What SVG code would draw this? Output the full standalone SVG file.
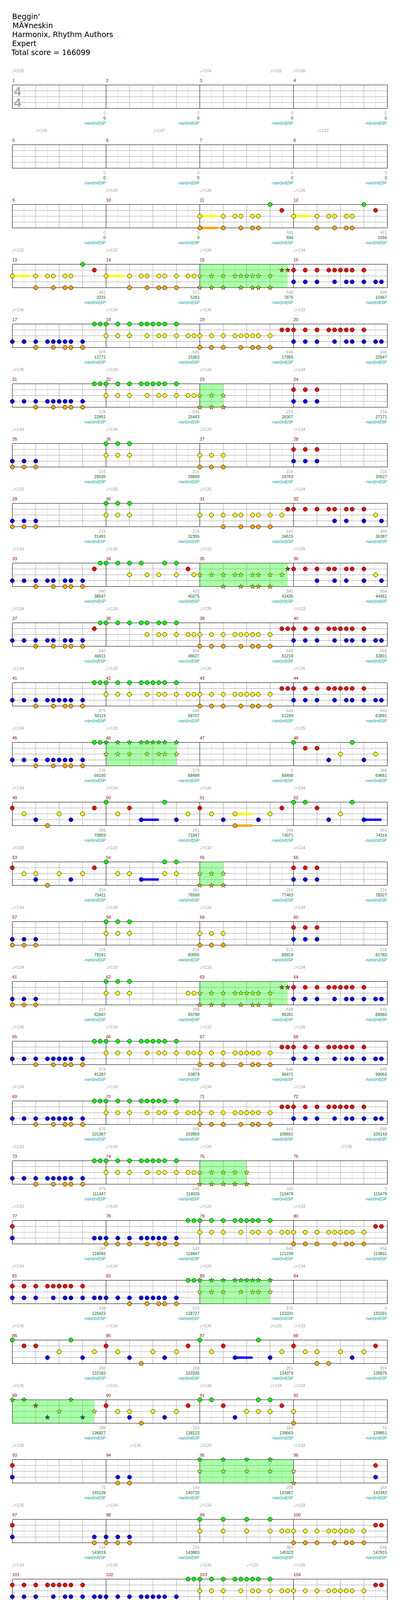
<svg xmlns="http://www.w3.org/2000/svg" width="1024" height="4807" viewBox="0 0 1024 4807">
<style>
.l8{stroke:#dcdcdc;stroke-width:1;fill:none}
.lb{stroke:#a0a0a0;stroke-width:1;fill:none}
.lm{stroke:#000;stroke-width:1;fill:none}
.ti{font-family:"DejaVu Sans",Verdana,sans-serif;font-size:19px;fill:#000}
.mn{font-family:"Liberation Sans",Arial,sans-serif;font-size:11px;fill:#900000}
.tp{font-family:"Liberation Sans",Arial,sans-serif;font-size:11px;fill:#a0a0a0}
.q{font-family:"DejaVu Sans",sans-serif;font-size:12px}
.s1,.s2,.s3{font-family:"Liberation Sans",Arial,sans-serif;font-size:10.5px;text-anchor:end}
.s1{fill:#a0a0a0}.s2{fill:#006400}.s3{fill:#009c9c}
.ts{font-family:"Liberation Sans",Arial,sans-serif;font-size:32px;font-weight:bold;fill:#a8a8a8}
.g{fill:#00ff00}.r{fill:#ff0000}.y{fill:#ffff00}.b{fill:#0000ff}.o{fill:#ffa500}
.sp{fill:#00ff00;fill-opacity:0.33}
</style>
<defs>
<circle id="c" r="5.3" stroke="#000" stroke-width="1"/>
<path id="s" d="M0,-6.5L1.53,-2.1L6.18,-2.01L2.47,0.8L3.82,5.26L0,2.6L-3.82,5.26L-2.47,0.8L-6.18,-2.01L-1.53,-2.1Z" stroke="#000" stroke-width="0.8"/>
<g id="staff" shape-rendering="crispEdges">
<path class="l8" d="M30,0V60M90,0V60M150,0V60M210,0V60M270,0V60M330,0V60M390,0V60M450,0V60M510,0V60M570,0V60M630,0V60M690,0V60M750,0V60M810,0V60M870,0V60M930,0V60"/>
<path class="lb" d="M60,0V60M120,0V60M180,0V60M300,0V60M360,0V60M420,0V60M540,0V60M600,0V60M660,0V60M780,0V60M840,0V60M900,0V60M0,15H960M0,30H960M0,45H960"/>
<path class="lm" d="M0,0V60M240,0V60M480,0V60M720,0V60M960,0V60M0,0H960M0,60H960"/>
</g>
<g id="staff1" shape-rendering="crispEdges">
<path class="l8" d="M30,0V60M90,0V60M150,0V60M210,0V60"/>
<path class="lb" d="M60,0V60M120,0V60M180,0V60M0,15H240M0,30H240M0,45H240"/>
<path class="lm" d="M0,0V60M240,0V60M0,0H240M0,60H240"/>
</g>
<g id="patA">
<g class="g"><use href="#c" x="210"/><use href="#c" x="225"/><use href="#c" x="240"/><use href="#c" x="270"/><use href="#c" x="300"/><use href="#c" x="330"/><use href="#c" x="345"/><use href="#c" x="360"/><use href="#c" x="375"/><use href="#c" x="390"/><use href="#c" x="420"/></g>
<g class="r" transform="translate(0,15)"><use href="#c" x="690"/><use href="#c" x="705"/><use href="#c" x="720"/><use href="#c" x="750"/><use href="#c" x="780"/><use href="#c" x="810"/><use href="#c" x="825"/><use href="#c" x="840"/><use href="#c" x="855"/><use href="#c" x="870"/><use href="#c" x="900"/></g>
<g class="y" transform="translate(0,30)"><use href="#c" x="240"/><use href="#c" x="270"/><use href="#c" x="300"/><use href="#c" x="345"/><use href="#c" x="375"/><use href="#c" x="390"/><use href="#c" x="420"/><use href="#c" x="450"/><use href="#c" x="465"/><use href="#c" x="480"/><use href="#c" x="510"/><use href="#c" x="540"/><use href="#c" x="570"/><use href="#c" x="585"/><use href="#c" x="600"/><use href="#c" x="615"/><use href="#c" x="630"/><use href="#c" x="660"/></g>
<g class="b" transform="translate(0,45)"><use href="#c" x="0"/><use href="#c" x="30"/><use href="#c" x="60"/><use href="#c" x="90"/><use href="#c" x="105"/><use href="#c" x="120"/><use href="#c" x="135"/><use href="#c" x="150"/><use href="#c" x="180"/><use href="#c" x="720"/><use href="#c" x="750"/><use href="#c" x="780"/><use href="#c" x="825"/><use href="#c" x="855"/><use href="#c" x="870"/><use href="#c" x="900"/><use href="#c" x="930"/><use href="#c" x="945"/></g>
<g class="o" transform="translate(0,60)"><use href="#c" x="60"/><use href="#c" x="105"/><use href="#c" x="135"/><use href="#c" x="150"/><use href="#c" x="180"/><use href="#c" x="480"/><use href="#c" x="510"/><use href="#c" x="540"/><use href="#c" x="585"/><use href="#c" x="615"/><use href="#c" x="630"/><use href="#c" x="660"/></g>
</g>
<g id="patB">
<g class="g"><use href="#c" x="240"/><use href="#c" x="270"/><use href="#c" x="300"/></g>
<g class="r" transform="translate(0,15)"><use href="#c" x="720"/><use href="#c" x="750"/><use href="#c" x="780"/></g>
<g class="y" transform="translate(0,30)"><use href="#c" x="240"/><use href="#c" x="270"/><use href="#c" x="300"/><use href="#c" x="480"/><use href="#c" x="510"/><use href="#c" x="540"/></g>
<g class="b" transform="translate(0,45)"><use href="#c" x="0"/><use href="#c" x="30"/><use href="#c" x="60"/><use href="#c" x="720"/><use href="#c" x="750"/><use href="#c" x="780"/></g>
<g class="o" transform="translate(0,60)"><use href="#c" x="0"/><use href="#c" x="30"/><use href="#c" x="60"/><use href="#c" x="480"/><use href="#c" x="510"/><use href="#c" x="540"/></g>
</g>
</defs>
<rect width="1024" height="4807" fill="#fff"/>
<g id="title">
<text class="ti" x="31" y="49">Beggin'</text>
<text class="ti" x="32" y="72">MÃ¥neskin</text>
<text class="ti" x="31" y="95">Harmonix, Rhythm Authors</text>
<text class="ti" x="31" y="118">Expert</text>
<text class="ti" x="29" y="141">Total score = 166099</text>
</g>

<g id="row-1" transform="translate(31.5,217.5)">
<use href="#staff"/>
<text class="ts" x="4.5" y="27.5">4</text><text class="ts" x="4.5" y="56.5">4</text>
<text class="tp" x="-0.5" y="-33"><tspan class="q">♩</tspan>=105</text><text class="tp" x="479.5" y="-33"><tspan class="q">♩</tspan>=104</text><text class="tp" x="659.5" y="-33"><tspan class="q">♩</tspan>=102</text><text class="tp" x="719.5" y="-33"><tspan class="q">♩</tspan>=106</text>
<text class="mn" x="0" y="-7.5">1</text><text class="mn" x="240" y="-7.5">2</text><text class="mn" x="480" y="-7.5">3</text><text class="mn" x="720" y="-7.5">4</text>
<text class="s1" x="239" y="75.5">0</text><text class="s2" x="239" y="88.5">0</text><text class="s3" x="239" y="101">-nan(ind)SP</text>
<text class="s1" x="479" y="75.5">0</text><text class="s2" x="479" y="88.5">0</text><text class="s3" x="479" y="101">-nan(ind)SP</text>
<text class="s1" x="719" y="75.5">0</text><text class="s2" x="719" y="88.5">0</text><text class="s3" x="719" y="101">-nan(ind)SP</text>
<text class="s1" x="959" y="75.5">0</text><text class="s2" x="959" y="88.5">0</text><text class="s3" x="959" y="101">-nan(ind)SP</text>
</g>

<g id="row-5" transform="translate(31.5,370.5)">
<use href="#staff"/>
<text class="tp" x="59.5" y="-33"><tspan class="q">♩</tspan>=106</text><text class="tp" x="359.5" y="-33"><tspan class="q">♩</tspan>=107</text><text class="tp" x="779.5" y="-33"><tspan class="q">♩</tspan>=122</text>
<text class="mn" x="0" y="-7.5">5</text><text class="mn" x="240" y="-7.5">6</text><text class="mn" x="480" y="-7.5">7</text><text class="mn" x="720" y="-7.5">8</text>
<text class="s1" x="239" y="75.5">0</text><text class="s2" x="239" y="88.5">0</text><text class="s3" x="239" y="101">-nan(ind)SP</text>
<text class="s1" x="479" y="75.5">0</text><text class="s2" x="479" y="88.5">0</text><text class="s3" x="479" y="101">-nan(ind)SP</text>
<text class="s1" x="719" y="75.5">0</text><text class="s2" x="719" y="88.5">0</text><text class="s3" x="719" y="101">-nan(ind)SP</text>
<text class="s1" x="959" y="75.5">0</text><text class="s2" x="959" y="88.5">0</text><text class="s3" x="959" y="101">-nan(ind)SP</text>
</g>

<g id="row-9" transform="translate(31.5,523.5)">
<use href="#staff"/>
<text class="tp" x="239.5" y="-33"><tspan class="q">♩</tspan>=135</text><text class="tp" x="479.5" y="-33"><tspan class="q">♩</tspan>=135</text><text class="tp" x="719.5" y="-33"><tspan class="q">♩</tspan>=135</text>
<text class="mn" x="0" y="-7.5">9</text><text class="mn" x="240" y="-7.5">10</text><text class="mn" x="480" y="-7.5">11</text><text class="mn" x="720" y="-7.5">12</text>
<rect class="y" x="480" y="27" width="45" height="6"/><rect class="o" x="480" y="57" width="45" height="6"/><rect class="y" x="720" y="27" width="45" height="6"/>
<g class="g"><use href="#c" x="660"/><use href="#c" x="900"/></g>
<g class="r" transform="translate(0,15)"><use href="#c" x="690"/><use href="#c" x="930"/></g>
<g class="y" transform="translate(0,30)"><use href="#c" x="480"/><use href="#c" x="540"/><use href="#c" x="570"/><use href="#c" x="585"/><use href="#c" x="615"/><use href="#c" x="630"/><use href="#c" x="720"/><use href="#c" x="780"/><use href="#c" x="810"/><use href="#c" x="825"/><use href="#c" x="855"/><use href="#c" x="870"/></g>
<g class="o" transform="translate(0,60)"><use href="#c" x="480"/><use href="#c" x="540"/><use href="#c" x="585"/><use href="#c" x="615"/><use href="#c" x="630"/><use href="#c" x="780"/><use href="#c" x="825"/><use href="#c" x="855"/><use href="#c" x="870"/></g>
<text class="s1" x="239" y="75.5">0</text><text class="s2" x="239" y="88.5">0</text><text class="s3" x="239" y="101">-nan(ind)SP</text>
<text class="s1" x="479" y="75.5">0</text><text class="s2" x="479" y="88.5">0</text><text class="s3" x="479" y="101">-nan(ind)SP</text>
<text class="s1" x="719" y="75.5">486</text><text class="s2" x="719" y="88.5">594</text><text class="s3" x="719" y="101">-nan(ind)SP</text>
<text class="s1" x="959" y="75.5">441</text><text class="s2" x="959" y="88.5">1656</text><text class="s3" x="959" y="101">-nan(ind)SP</text>
</g>

<g id="row-13" transform="translate(31.5,676.5)">
<use href="#staff"/>
<text class="tp" x="-0.5" y="-33"><tspan class="q">♩</tspan>=132</text><text class="tp" x="239.5" y="-33"><tspan class="q">♩</tspan>=133</text><text class="tp" x="479.5" y="-33"><tspan class="q">♩</tspan>=136</text><text class="tp" x="719.5" y="-33"><tspan class="q">♩</tspan>=134</text>
<text class="mn" x="0" y="-7.5">13</text><text class="mn" x="240" y="-7.5">14</text><text class="mn" x="480" y="-7.5">15</text><text class="mn" x="720" y="-7.5">16</text>
<rect class="y" x="0" y="27" width="45" height="6"/><rect class="y" x="240" y="27" width="45" height="6"/>
<g class="g"><use href="#c" x="180"/></g>
<g class="r" transform="translate(0,15)"><use href="#c" x="210"/><use href="#c" x="720"/><use href="#c" x="750"/><use href="#c" x="780"/><use href="#c" x="810"/><use href="#c" x="825"/><use href="#c" x="840"/><use href="#c" x="855"/><use href="#c" x="870"/><use href="#c" x="900"/><use href="#s" x="690"/><use href="#s" x="705"/></g>
<g class="y" transform="translate(0,30)"><use href="#c" x="0"/><use href="#c" x="60"/><use href="#c" x="90"/><use href="#c" x="105"/><use href="#c" x="135"/><use href="#c" x="150"/><use href="#c" x="240"/><use href="#c" x="300"/><use href="#c" x="330"/><use href="#c" x="345"/><use href="#c" x="375"/><use href="#c" x="390"/><use href="#c" x="420"/><use href="#c" x="450"/><use href="#c" x="465"/><use href="#s" x="480"/><use href="#s" x="510"/><use href="#s" x="540"/><use href="#s" x="570"/><use href="#s" x="585"/><use href="#s" x="600"/><use href="#s" x="615"/><use href="#s" x="630"/><use href="#s" x="660"/></g>
<g class="b" transform="translate(0,45)"><use href="#c" x="720"/><use href="#c" x="750"/><use href="#c" x="780"/><use href="#c" x="825"/><use href="#c" x="855"/><use href="#c" x="870"/><use href="#c" x="900"/><use href="#c" x="930"/><use href="#c" x="945"/></g>
<g class="o" transform="translate(0,60)"><use href="#c" x="60"/><use href="#c" x="105"/><use href="#c" x="135"/><use href="#c" x="150"/><use href="#c" x="300"/><use href="#c" x="345"/><use href="#c" x="375"/><use href="#c" x="390"/><use href="#c" x="420"/><use href="#s" x="480"/><use href="#s" x="510"/><use href="#s" x="540"/><use href="#s" x="585"/><use href="#s" x="615"/><use href="#s" x="630"/><use href="#s" x="660"/></g>
<rect class="sp" x="480" y="0" width="225" height="60"/>
<text class="s1" x="239" y="75.5">441</text><text class="s2" x="239" y="88.5">3231</text><text class="s3" x="239" y="101">-nan(ind)SP</text>
<text class="s1" x="479" y="75.5">513</text><text class="s2" x="479" y="88.5">5283</text><text class="s3" x="479" y="101">-nan(ind)SP</text>
<text class="s1" x="719" y="75.5">648</text><text class="s2" x="719" y="88.5">7875</text><text class="s3" x="719" y="101">-nan(ind)SP</text>
<text class="s1" x="959" y="75.5">648</text><text class="s2" x="959" y="88.5">10467</text><text class="s3" x="959" y="101">-nan(ind)SP</text>
</g>

<g id="row-17" transform="translate(31.5,829.5)">
<use href="#staff"/>
<text class="tp" x="-0.5" y="-33"><tspan class="q">♩</tspan>=136</text><text class="tp" x="239.5" y="-33"><tspan class="q">♩</tspan>=134</text><text class="tp" x="479.5" y="-33"><tspan class="q">♩</tspan>=135</text><text class="tp" x="719.5" y="-33"><tspan class="q">♩</tspan>=132</text>
<text class="mn" x="0" y="-7.5">17</text><text class="mn" x="240" y="-7.5">18</text><text class="mn" x="480" y="-7.5">19</text><text class="mn" x="720" y="-7.5">20</text>
<use href="#patA"/>
<text class="s1" x="239" y="75.5">576</text><text class="s2" x="239" y="88.5">12771</text><text class="s3" x="239" y="101">-nan(ind)SP</text>
<text class="s1" x="479" y="75.5">648</text><text class="s2" x="479" y="88.5">15363</text><text class="s3" x="479" y="101">-nan(ind)SP</text>
<text class="s1" x="719" y="75.5">648</text><text class="s2" x="719" y="88.5">17955</text><text class="s3" x="719" y="101">-nan(ind)SP</text>
<text class="s1" x="959" y="75.5">648</text><text class="s2" x="959" y="88.5">20547</text><text class="s3" x="959" y="101">-nan(ind)SP</text>
</g>

<g id="row-21" transform="translate(31.5,982.5)">
<use href="#staff"/>
<text class="tp" x="-0.5" y="-33"><tspan class="q">♩</tspan>=135</text><text class="tp" x="239.5" y="-33"><tspan class="q">♩</tspan>=134</text><text class="tp" x="479.5" y="-33"><tspan class="q">♩</tspan>=133</text><text class="tp" x="719.5" y="-33"><tspan class="q">♩</tspan>=134</text>
<text class="mn" x="0" y="-7.5">21</text><text class="mn" x="240" y="-7.5">22</text><text class="mn" x="480" y="-7.5">23</text><text class="mn" x="720" y="-7.5">24</text>
<g class="g"><use href="#c" x="210"/><use href="#c" x="225"/><use href="#c" x="240"/><use href="#c" x="270"/><use href="#c" x="300"/><use href="#c" x="330"/><use href="#c" x="345"/><use href="#c" x="360"/><use href="#c" x="375"/><use href="#c" x="390"/><use href="#c" x="420"/></g>
<g class="r" transform="translate(0,15)"><use href="#c" x="720"/><use href="#c" x="750"/><use href="#c" x="780"/></g>
<g class="y" transform="translate(0,30)"><use href="#c" x="240"/><use href="#c" x="270"/><use href="#c" x="300"/><use href="#c" x="345"/><use href="#c" x="375"/><use href="#c" x="390"/><use href="#c" x="420"/><use href="#c" x="450"/><use href="#c" x="465"/><use href="#s" x="480"/><use href="#s" x="510"/><use href="#s" x="540"/></g>
<g class="b" transform="translate(0,45)"><use href="#c" x="0"/><use href="#c" x="30"/><use href="#c" x="60"/><use href="#c" x="90"/><use href="#c" x="105"/><use href="#c" x="120"/><use href="#c" x="135"/><use href="#c" x="150"/><use href="#c" x="180"/><use href="#c" x="720"/><use href="#c" x="750"/><use href="#c" x="780"/></g>
<g class="o" transform="translate(0,60)"><use href="#c" x="60"/><use href="#c" x="105"/><use href="#c" x="135"/><use href="#c" x="150"/><use href="#c" x="180"/><use href="#s" x="480"/><use href="#s" x="510"/><use href="#s" x="540"/></g>
<rect class="sp" x="480" y="0" width="60" height="60"/>
<text class="s1" x="239" y="75.5">576</text><text class="s2" x="239" y="88.5">22851</text><text class="s3" x="239" y="101">-nan(ind)SP</text>
<text class="s1" x="479" y="75.5">648</text><text class="s2" x="479" y="88.5">25443</text><text class="s3" x="479" y="101">-nan(ind)SP</text>
<text class="s1" x="719" y="75.5">216</text><text class="s2" x="719" y="88.5">26307</text><text class="s3" x="719" y="101">-nan(ind)SP</text>
<text class="s1" x="959" y="75.5">216</text><text class="s2" x="959" y="88.5">27171</text><text class="s3" x="959" y="101">-nan(ind)SP</text>
</g>

<g id="row-25" transform="translate(31.5,1135.5)">
<use href="#staff"/>
<text class="tp" x="-0.5" y="-33"><tspan class="q">♩</tspan>=134</text><text class="tp" x="239.5" y="-33"><tspan class="q">♩</tspan>=134</text><text class="tp" x="479.5" y="-33"><tspan class="q">♩</tspan>=133</text><text class="tp" x="719.5" y="-33"><tspan class="q">♩</tspan>=134</text>
<text class="mn" x="0" y="-7.5">25</text><text class="mn" x="240" y="-7.5">26</text><text class="mn" x="480" y="-7.5">27</text><text class="mn" x="720" y="-7.5">28</text>
<use href="#patB"/>
<text class="s1" x="239" y="75.5">216</text><text class="s2" x="239" y="88.5">28035</text><text class="s3" x="239" y="101">-nan(ind)SP</text>
<text class="s1" x="479" y="75.5">216</text><text class="s2" x="479" y="88.5">28899</text><text class="s3" x="479" y="101">-nan(ind)SP</text>
<text class="s1" x="719" y="75.5">216</text><text class="s2" x="719" y="88.5">29763</text><text class="s3" x="719" y="101">-nan(ind)SP</text>
<text class="s1" x="959" y="75.5">216</text><text class="s2" x="959" y="88.5">30627</text><text class="s3" x="959" y="101">-nan(ind)SP</text>
</g>

<g id="row-29" transform="translate(31.5,1288.5)">
<use href="#staff"/>
<text class="tp" x="-0.5" y="-33"><tspan class="q">♩</tspan>=133</text><text class="tp" x="239.5" y="-33"><tspan class="q">♩</tspan>=135</text><text class="tp" x="479.5" y="-33"><tspan class="q">♩</tspan>=135</text><text class="tp" x="719.5" y="-33"><tspan class="q">♩</tspan>=134</text>
<text class="mn" x="0" y="-7.5">29</text><text class="mn" x="240" y="-7.5">30</text><text class="mn" x="480" y="-7.5">31</text><text class="mn" x="720" y="-7.5">32</text>
<g class="g"><use href="#c" x="240"/><use href="#c" x="270"/><use href="#c" x="300"/></g>
<g class="r" transform="translate(0,15)"><use href="#c" x="705"/><use href="#c" x="720"/><use href="#c" x="750"/><use href="#c" x="780"/><use href="#c" x="810"/><use href="#c" x="825"/><use href="#c" x="855"/><use href="#c" x="870"/><use href="#c" x="900"/></g>
<g class="y" transform="translate(0,30)"><use href="#c" x="240"/><use href="#c" x="270"/><use href="#c" x="300"/><use href="#c" x="480"/><use href="#c" x="510"/><use href="#c" x="540"/><use href="#c" x="570"/><use href="#c" x="585"/><use href="#c" x="615"/><use href="#c" x="630"/><use href="#c" x="660"/><use href="#c" x="690"/><use href="#c" x="930"/></g>
<g class="b" transform="translate(0,45)"><use href="#c" x="0"/><use href="#c" x="30"/><use href="#c" x="60"/><use href="#c" x="825"/><use href="#c" x="855"/><use href="#c" x="900"/><use href="#c" x="945"/></g>
<g class="o" transform="translate(0,60)"><use href="#c" x="0"/><use href="#c" x="30"/><use href="#c" x="60"/><use href="#c" x="540"/><use href="#c" x="585"/><use href="#c" x="615"/><use href="#c" x="630"/><use href="#c" x="660"/></g>
<text class="s1" x="239" y="75.5">216</text><text class="s2" x="239" y="88.5">31491</text><text class="s3" x="239" y="101">-nan(ind)SP</text>
<text class="s1" x="479" y="75.5">216</text><text class="s2" x="479" y="88.5">32355</text><text class="s3" x="479" y="101">-nan(ind)SP</text>
<text class="s1" x="719" y="75.5">540</text><text class="s2" x="719" y="88.5">34515</text><text class="s3" x="719" y="101">-nan(ind)SP</text>
<text class="s1" x="959" y="75.5">468</text><text class="s2" x="959" y="88.5">36387</text><text class="s3" x="959" y="101">-nan(ind)SP</text>
</g>

<g id="row-33" transform="translate(31.5,1441.5)">
<use href="#staff"/>
<text class="tp" x="-0.5" y="-33"><tspan class="q">♩</tspan>=134</text><text class="tp" x="239.5" y="-33"><tspan class="q">♩</tspan>=135</text><text class="tp" x="479.5" y="-33"><tspan class="q">♩</tspan>=133</text><text class="tp" x="719.5" y="-33"><tspan class="q">♩</tspan>=135</text>
<text class="mn" x="0" y="-7.5">33</text><text class="mn" x="240" y="-7.5">34</text><text class="mn" x="480" y="-7.5">35</text><text class="mn" x="720" y="-7.5">36</text>
<g class="g"><use href="#c" x="225"/><use href="#c" x="240"/><use href="#c" x="270"/><use href="#c" x="300"/><use href="#c" x="330"/><use href="#c" x="390"/><use href="#c" x="420"/></g>
<g class="r" transform="translate(0,15)"><use href="#c" x="210"/><use href="#c" x="450"/><use href="#c" x="720"/><use href="#c" x="750"/><use href="#c" x="780"/><use href="#c" x="810"/><use href="#c" x="825"/><use href="#c" x="855"/><use href="#c" x="870"/><use href="#c" x="900"/><use href="#s" x="705"/></g>
<g class="y" transform="translate(0,30)"><use href="#c" x="300"/><use href="#c" x="345"/><use href="#c" x="375"/><use href="#c" x="420"/><use href="#c" x="465"/><use href="#c" x="930"/><use href="#s" x="480"/><use href="#s" x="510"/><use href="#s" x="540"/><use href="#s" x="570"/><use href="#s" x="585"/><use href="#s" x="615"/><use href="#s" x="630"/><use href="#s" x="660"/><use href="#s" x="690"/></g>
<g class="b" transform="translate(0,45)"><use href="#c" x="0"/><use href="#c" x="30"/><use href="#c" x="60"/><use href="#c" x="90"/><use href="#c" x="105"/><use href="#c" x="135"/><use href="#c" x="150"/><use href="#c" x="180"/><use href="#c" x="780"/><use href="#c" x="825"/><use href="#c" x="855"/><use href="#c" x="900"/><use href="#c" x="945"/></g>
<g class="o" transform="translate(0,60)"><use href="#c" x="60"/><use href="#c" x="105"/><use href="#c" x="135"/><use href="#c" x="150"/><use href="#c" x="180"/><use href="#s" x="540"/><use href="#s" x="585"/><use href="#s" x="615"/><use href="#s" x="630"/><use href="#s" x="660"/></g>
<rect class="sp" x="480" y="0" width="225" height="60"/>
<text class="s1" x="239" y="75.5">540</text><text class="s2" x="239" y="88.5">38547</text><text class="s3" x="239" y="101">-nan(ind)SP</text>
<text class="s1" x="479" y="75.5">432</text><text class="s2" x="479" y="88.5">40275</text><text class="s3" x="479" y="101">-nan(ind)SP</text>
<text class="s1" x="719" y="75.5">540</text><text class="s2" x="719" y="88.5">42435</text><text class="s3" x="719" y="101">-nan(ind)SP</text>
<text class="s1" x="959" y="75.5">504</text><text class="s2" x="959" y="88.5">44451</text><text class="s3" x="959" y="101">-nan(ind)SP</text>
</g>

<g id="row-37" transform="translate(31.5,1594.5)">
<use href="#staff"/>
<text class="tp" x="-0.5" y="-33"><tspan class="q">♩</tspan>=134</text><text class="tp" x="239.5" y="-33"><tspan class="q">♩</tspan>=134</text><text class="tp" x="479.5" y="-33"><tspan class="q">♩</tspan>=135</text><text class="tp" x="719.5" y="-33"><tspan class="q">♩</tspan>=133</text>
<text class="mn" x="0" y="-7.5">37</text><text class="mn" x="240" y="-7.5">38</text><text class="mn" x="480" y="-7.5">39</text><text class="mn" x="720" y="-7.5">40</text>
<g class="g"><use href="#c" x="225"/><use href="#c" x="240"/><use href="#c" x="270"/><use href="#c" x="300"/><use href="#c" x="330"/><use href="#c" x="345"/><use href="#c" x="375"/><use href="#c" x="390"/><use href="#c" x="420"/></g>
<g class="r" transform="translate(0,15)"><use href="#c" x="210"/><use href="#c" x="690"/><use href="#c" x="705"/><use href="#c" x="720"/><use href="#c" x="750"/><use href="#c" x="780"/><use href="#c" x="810"/><use href="#c" x="825"/><use href="#c" x="840"/><use href="#c" x="855"/><use href="#c" x="870"/><use href="#c" x="900"/></g>
<g class="y" transform="translate(0,30)"><use href="#c" x="345"/><use href="#c" x="375"/><use href="#c" x="390"/><use href="#c" x="420"/><use href="#c" x="450"/><use href="#c" x="465"/><use href="#c" x="480"/><use href="#c" x="510"/><use href="#c" x="540"/><use href="#c" x="570"/><use href="#c" x="585"/><use href="#c" x="600"/><use href="#c" x="615"/><use href="#c" x="630"/><use href="#c" x="660"/></g>
<g class="b" transform="translate(0,45)"><use href="#c" x="0"/><use href="#c" x="30"/><use href="#c" x="60"/><use href="#c" x="90"/><use href="#c" x="105"/><use href="#c" x="135"/><use href="#c" x="150"/><use href="#c" x="180"/><use href="#c" x="720"/><use href="#c" x="750"/><use href="#c" x="780"/><use href="#c" x="825"/><use href="#c" x="855"/><use href="#c" x="870"/><use href="#c" x="900"/><use href="#c" x="930"/><use href="#c" x="945"/></g>
<g class="o" transform="translate(0,60)"><use href="#c" x="60"/><use href="#c" x="105"/><use href="#c" x="135"/><use href="#c" x="150"/><use href="#c" x="180"/><use href="#c" x="480"/><use href="#c" x="510"/><use href="#c" x="540"/><use href="#c" x="585"/><use href="#c" x="615"/><use href="#c" x="630"/><use href="#c" x="660"/></g>
<text class="s1" x="239" y="75.5">540</text><text class="s2" x="239" y="88.5">46611</text><text class="s3" x="239" y="101">-nan(ind)SP</text>
<text class="s1" x="479" y="75.5">504</text><text class="s2" x="479" y="88.5">48627</text><text class="s3" x="479" y="101">-nan(ind)SP</text>
<text class="s1" x="719" y="75.5">648</text><text class="s2" x="719" y="88.5">51219</text><text class="s3" x="719" y="101">-nan(ind)SP</text>
<text class="s1" x="959" y="75.5">648</text><text class="s2" x="959" y="88.5">53811</text><text class="s3" x="959" y="101">-nan(ind)SP</text>
</g>

<g id="row-41" transform="translate(31.5,1747.5)">
<use href="#staff"/>
<text class="tp" x="-0.5" y="-33"><tspan class="q">♩</tspan>=134</text><text class="tp" x="239.5" y="-33"><tspan class="q">♩</tspan>=133</text><text class="tp" x="479.5" y="-33"><tspan class="q">♩</tspan>=135</text><text class="tp" x="719.5" y="-33"><tspan class="q">♩</tspan>=135</text>
<text class="mn" x="0" y="-7.5">41</text><text class="mn" x="240" y="-7.5">42</text><text class="mn" x="480" y="-7.5">43</text><text class="mn" x="720" y="-7.5">44</text>
<use href="#patA"/>
<text class="s1" x="239" y="75.5">576</text><text class="s2" x="239" y="88.5">56115</text><text class="s3" x="239" y="101">-nan(ind)SP</text>
<text class="s1" x="479" y="75.5">648</text><text class="s2" x="479" y="88.5">58707</text><text class="s3" x="479" y="101">-nan(ind)SP</text>
<text class="s1" x="719" y="75.5">648</text><text class="s2" x="719" y="88.5">61299</text><text class="s3" x="719" y="101">-nan(ind)SP</text>
<text class="s1" x="959" y="75.5">648</text><text class="s2" x="959" y="88.5">63891</text><text class="s3" x="959" y="101">-nan(ind)SP</text>
</g>

<g id="row-45" transform="translate(31.5,1900.5)">
<use href="#staff"/>
<text class="tp" x="-0.5" y="-33"><tspan class="q">♩</tspan>=134</text><text class="tp" x="239.5" y="-33"><tspan class="q">♩</tspan>=133</text><text class="tp" x="719.5" y="-33"><tspan class="q">♩</tspan>=135</text>
<text class="mn" x="0" y="-7.5">45</text><text class="mn" x="240" y="-7.5">46</text><text class="mn" x="480" y="-7.5">47</text><text class="mn" x="720" y="-7.5">48</text>
<g class="g"><use href="#c" x="210"/><use href="#c" x="225"/><use href="#c" x="720"/><use href="#c" x="870"/><use href="#s" x="240"/><use href="#s" x="270"/><use href="#s" x="300"/><use href="#s" x="330"/><use href="#s" x="345"/><use href="#s" x="360"/><use href="#s" x="375"/><use href="#s" x="390"/><use href="#s" x="420"/></g>
<g class="r" transform="translate(0,15)"><use href="#c" x="750"/><use href="#c" x="780"/></g>
<g class="y" transform="translate(0,30)"><use href="#c" x="840"/><use href="#c" x="930"/><use href="#s" x="240"/><use href="#s" x="270"/><use href="#s" x="300"/><use href="#s" x="345"/><use href="#s" x="375"/><use href="#s" x="390"/><use href="#s" x="420"/></g>
<g class="b" transform="translate(0,45)"><use href="#c" x="0"/><use href="#c" x="30"/><use href="#c" x="60"/><use href="#c" x="90"/><use href="#c" x="105"/><use href="#c" x="120"/><use href="#c" x="135"/><use href="#c" x="150"/><use href="#c" x="180"/><use href="#c" x="810"/><use href="#c" x="900"/></g>
<g class="o" transform="translate(0,60)"><use href="#c" x="60"/><use href="#c" x="105"/><use href="#c" x="135"/><use href="#c" x="150"/><use href="#c" x="180"/></g>
<rect class="sp" x="240" y="0" width="180" height="60"/>
<text class="s1" x="239" y="75.5">576</text><text class="s2" x="239" y="88.5">66195</text><text class="s3" x="239" y="101">-nan(ind)SP</text>
<text class="s1" x="479" y="75.5">576</text><text class="s2" x="479" y="88.5">68499</text><text class="s3" x="479" y="101">-nan(ind)SP</text>
<text class="s1" x="719" y="75.5">0</text><text class="s2" x="719" y="88.5">68499</text><text class="s3" x="719" y="101">-nan(ind)SP</text>
<text class="s1" x="959" y="75.5">288</text><text class="s2" x="959" y="88.5">69651</text><text class="s3" x="959" y="101">-nan(ind)SP</text>
</g>

<g id="row-49" transform="translate(31.5,2053.5)">
<use href="#staff"/>
<text class="tp" x="-0.5" y="-33"><tspan class="q">♩</tspan>=134</text><text class="tp" x="239.5" y="-33"><tspan class="q">♩</tspan>=134</text><text class="tp" x="479.5" y="-33"><tspan class="q">♩</tspan>=135</text><text class="tp" x="719.5" y="-33"><tspan class="q">♩</tspan>=134</text>
<text class="mn" x="0" y="-7.5">49</text><text class="mn" x="240" y="-7.5">50</text><text class="mn" x="480" y="-7.5">51</text><text class="mn" x="720" y="-7.5">52</text>
<rect class="y" x="570" y="27" width="45" height="6"/><rect class="b" x="330" y="42" width="45" height="6"/><rect class="b" x="900" y="42" width="45" height="6"/><rect class="o" x="570" y="57" width="45" height="6"/>
<g class="g"><use href="#c" x="240"/><use href="#c" x="390"/><use href="#c" x="720"/><use href="#c" x="750"/><use href="#c" x="870"/></g>
<g class="r" transform="translate(0,15)"><use href="#c" x="0"/><use href="#c" x="210"/><use href="#c" x="300"/><use href="#c" x="480"/><use href="#c" x="690"/><use href="#c" x="780"/></g>
<g class="y" transform="translate(0,30)"><use href="#c" x="30"/><use href="#c" x="120"/><use href="#c" x="180"/><use href="#c" x="270"/><use href="#c" x="450"/><use href="#c" x="510"/><use href="#c" x="570"/><use href="#c" x="660"/><use href="#c" x="840"/></g>
<g class="b" transform="translate(0,45)"><use href="#c" x="60"/><use href="#c" x="150"/><use href="#c" x="330"/><use href="#c" x="420"/><use href="#c" x="540"/><use href="#c" x="630"/><use href="#c" x="810"/><use href="#c" x="900"/></g>
<g class="o" transform="translate(0,60)"><use href="#c" x="90"/><use href="#c" x="570"/></g>
<text class="s1" x="239" y="75.5">288</text><text class="s2" x="239" y="88.5">70803</text><text class="s3" x="239" y="101">-nan(ind)SP</text>
<text class="s1" x="479" y="75.5">261</text><text class="s2" x="479" y="88.5">71847</text><text class="s3" x="479" y="101">-nan(ind)SP</text>
<text class="s1" x="719" y="75.5">306</text><text class="s2" x="719" y="88.5">73071</text><text class="s3" x="719" y="101">-nan(ind)SP</text>
<text class="s1" x="959" y="75.5">261</text><text class="s2" x="959" y="88.5">74115</text><text class="s3" x="959" y="101">-nan(ind)SP</text>
</g>

<g id="row-53" transform="translate(31.5,2206.5)">
<use href="#staff"/>
<text class="tp" x="-0.5" y="-33"><tspan class="q">♩</tspan>=133</text><text class="tp" x="239.5" y="-33"><tspan class="q">♩</tspan>=137</text><text class="tp" x="479.5" y="-33"><tspan class="q">♩</tspan>=132</text><text class="tp" x="719.5" y="-33"><tspan class="q">♩</tspan>=134</text>
<text class="mn" x="0" y="-7.5">53</text><text class="mn" x="240" y="-7.5">54</text><text class="mn" x="480" y="-7.5">55</text><text class="mn" x="720" y="-7.5">56</text>
<rect class="b" x="330" y="42" width="45" height="6"/>
<g class="g"><use href="#c" x="240"/><use href="#c" x="390"/><use href="#c" x="420"/></g>
<g class="r" transform="translate(0,15)"><use href="#c" x="0"/><use href="#c" x="210"/><use href="#c" x="720"/><use href="#c" x="750"/><use href="#c" x="780"/></g>
<g class="y" transform="translate(0,30)"><use href="#c" x="30"/><use href="#c" x="60"/><use href="#c" x="120"/><use href="#c" x="180"/><use href="#c" x="270"/><use href="#c" x="300"/><use href="#c" x="390"/><use href="#c" x="420"/><use href="#s" x="480"/><use href="#s" x="510"/><use href="#s" x="540"/></g>
<g class="b" transform="translate(0,45)"><use href="#c" x="60"/><use href="#c" x="150"/><use href="#c" x="330"/><use href="#c" x="720"/><use href="#c" x="750"/><use href="#c" x="780"/></g>
<g class="o" transform="translate(0,60)"><use href="#c" x="90"/><use href="#s" x="480"/><use href="#s" x="510"/><use href="#s" x="540"/></g>
<rect class="sp" x="480" y="0" width="60" height="60"/>
<text class="s1" x="239" y="75.5">324</text><text class="s2" x="239" y="88.5">75411</text><text class="s3" x="239" y="101">-nan(ind)SP</text>
<text class="s1" x="479" y="75.5">297</text><text class="s2" x="479" y="88.5">76599</text><text class="s3" x="479" y="101">-nan(ind)SP</text>
<text class="s1" x="719" y="75.5">216</text><text class="s2" x="719" y="88.5">77463</text><text class="s3" x="719" y="101">-nan(ind)SP</text>
<text class="s1" x="959" y="75.5">216</text><text class="s2" x="959" y="88.5">78327</text><text class="s3" x="959" y="101">-nan(ind)SP</text>
</g>

<g id="row-57" transform="translate(31.5,2359.5)">
<use href="#staff"/>
<text class="tp" x="-0.5" y="-33"><tspan class="q">♩</tspan>=134</text><text class="tp" x="239.5" y="-33"><tspan class="q">♩</tspan>=135</text><text class="tp" x="479.5" y="-33"><tspan class="q">♩</tspan>=134</text><text class="tp" x="719.5" y="-33"><tspan class="q">♩</tspan>=134</text>
<text class="mn" x="0" y="-7.5">57</text><text class="mn" x="240" y="-7.5">58</text><text class="mn" x="480" y="-7.5">59</text><text class="mn" x="720" y="-7.5">60</text>
<use href="#patB"/>
<text class="s1" x="239" y="75.5">216</text><text class="s2" x="239" y="88.5">79191</text><text class="s3" x="239" y="101">-nan(ind)SP</text>
<text class="s1" x="479" y="75.5">216</text><text class="s2" x="479" y="88.5">80055</text><text class="s3" x="479" y="101">-nan(ind)SP</text>
<text class="s1" x="719" y="75.5">216</text><text class="s2" x="719" y="88.5">80919</text><text class="s3" x="719" y="101">-nan(ind)SP</text>
<text class="s1" x="959" y="75.5">216</text><text class="s2" x="959" y="88.5">81783</text><text class="s3" x="959" y="101">-nan(ind)SP</text>
</g>

<g id="row-61" transform="translate(31.5,2512.5)">
<use href="#staff"/>
<text class="tp" x="-0.5" y="-33"><tspan class="q">♩</tspan>=134</text><text class="tp" x="239.5" y="-33"><tspan class="q">♩</tspan>=133</text><text class="tp" x="479.5" y="-33"><tspan class="q">♩</tspan>=133</text><text class="tp" x="719.5" y="-33"><tspan class="q">♩</tspan>=134</text>
<text class="mn" x="0" y="-7.5">61</text><text class="mn" x="240" y="-7.5">62</text><text class="mn" x="480" y="-7.5">63</text><text class="mn" x="720" y="-7.5">64</text>
<g class="g"><use href="#c" x="240"/><use href="#c" x="270"/><use href="#c" x="300"/></g>
<g class="r" transform="translate(0,15)"><use href="#c" x="720"/><use href="#c" x="750"/><use href="#c" x="780"/><use href="#c" x="810"/><use href="#c" x="825"/><use href="#c" x="840"/><use href="#c" x="855"/><use href="#c" x="870"/><use href="#c" x="900"/><use href="#s" x="690"/><use href="#s" x="705"/></g>
<g class="y" transform="translate(0,30)"><use href="#c" x="240"/><use href="#c" x="270"/><use href="#c" x="300"/><use href="#c" x="450"/><use href="#c" x="465"/><use href="#s" x="480"/><use href="#s" x="510"/><use href="#s" x="540"/><use href="#s" x="570"/><use href="#s" x="585"/><use href="#s" x="600"/><use href="#s" x="615"/><use href="#s" x="630"/><use href="#s" x="660"/></g>
<g class="b" transform="translate(0,45)"><use href="#c" x="0"/><use href="#c" x="30"/><use href="#c" x="60"/><use href="#c" x="720"/><use href="#c" x="750"/><use href="#c" x="780"/><use href="#c" x="825"/><use href="#c" x="855"/><use href="#c" x="870"/><use href="#c" x="900"/><use href="#c" x="930"/><use href="#c" x="945"/></g>
<g class="o" transform="translate(0,60)"><use href="#c" x="0"/><use href="#c" x="30"/><use href="#c" x="60"/><use href="#s" x="480"/><use href="#s" x="510"/><use href="#s" x="540"/><use href="#s" x="585"/><use href="#s" x="615"/><use href="#s" x="630"/><use href="#s" x="660"/></g>
<rect class="sp" x="480" y="0" width="225" height="60"/>
<text class="s1" x="239" y="75.5">216</text><text class="s2" x="239" y="88.5">82647</text><text class="s3" x="239" y="101">-nan(ind)SP</text>
<text class="s1" x="479" y="75.5">288</text><text class="s2" x="479" y="88.5">83799</text><text class="s3" x="479" y="101">-nan(ind)SP</text>
<text class="s1" x="719" y="75.5">648</text><text class="s2" x="719" y="88.5">86391</text><text class="s3" x="719" y="101">-nan(ind)SP</text>
<text class="s1" x="959" y="75.5">648</text><text class="s2" x="959" y="88.5">88983</text><text class="s3" x="959" y="101">-nan(ind)SP</text>
</g>

<g id="row-65" transform="translate(31.5,2665.5)">
<use href="#staff"/>
<text class="tp" x="-0.5" y="-33"><tspan class="q">♩</tspan>=136</text><text class="tp" x="239.5" y="-33"><tspan class="q">♩</tspan>=134</text><text class="tp" x="479.5" y="-33"><tspan class="q">♩</tspan>=132</text><text class="tp" x="719.5" y="-33"><tspan class="q">♩</tspan>=135</text>
<text class="mn" x="0" y="-7.5">65</text><text class="mn" x="240" y="-7.5">66</text><text class="mn" x="480" y="-7.5">67</text><text class="mn" x="720" y="-7.5">68</text>
<use href="#patA"/>
<text class="s1" x="239" y="75.5">576</text><text class="s2" x="239" y="88.5">91287</text><text class="s3" x="239" y="101">-nan(ind)SP</text>
<text class="s1" x="479" y="75.5">648</text><text class="s2" x="479" y="88.5">93879</text><text class="s3" x="479" y="101">-nan(ind)SP</text>
<text class="s1" x="719" y="75.5">648</text><text class="s2" x="719" y="88.5">96471</text><text class="s3" x="719" y="101">-nan(ind)SP</text>
<text class="s1" x="959" y="75.5">648</text><text class="s2" x="959" y="88.5">99063</text><text class="s3" x="959" y="101">-nan(ind)SP</text>
</g>

<g id="row-69" transform="translate(31.5,2818.5)">
<use href="#staff"/>
<text class="tp" x="-0.5" y="-33"><tspan class="q">♩</tspan>=134</text><text class="tp" x="239.5" y="-33"><tspan class="q">♩</tspan>=134</text><text class="tp" x="479.5" y="-33"><tspan class="q">♩</tspan>=134</text><text class="tp" x="719.5" y="-33"><tspan class="q">♩</tspan>=134</text>
<text class="mn" x="0" y="-7.5">69</text><text class="mn" x="240" y="-7.5">70</text><text class="mn" x="480" y="-7.5">71</text><text class="mn" x="720" y="-7.5">72</text>
<use href="#patA"/>
<text class="s1" x="239" y="75.5">576</text><text class="s2" x="239" y="88.5">101367</text><text class="s3" x="239" y="101">-nan(ind)SP</text>
<text class="s1" x="479" y="75.5">648</text><text class="s2" x="479" y="88.5">103959</text><text class="s3" x="479" y="101">-nan(ind)SP</text>
<text class="s1" x="719" y="75.5">648</text><text class="s2" x="719" y="88.5">106551</text><text class="s3" x="719" y="101">-nan(ind)SP</text>
<text class="s1" x="959" y="75.5">648</text><text class="s2" x="959" y="88.5">109143</text><text class="s3" x="959" y="101">-nan(ind)SP</text>
</g>

<g id="row-73" transform="translate(31.5,2971.5)">
<use href="#staff"/>
<text class="tp" x="-0.5" y="-33"><tspan class="q">♩</tspan>=133</text><text class="tp" x="239.5" y="-33"><tspan class="q">♩</tspan>=134</text><text class="tp" x="479.5" y="-33"><tspan class="q">♩</tspan>=134</text><text class="tp" x="839.5" y="-33"><tspan class="q">♩</tspan>=136</text>
<text class="mn" x="0" y="-7.5">73</text><text class="mn" x="240" y="-7.5">74</text><text class="mn" x="480" y="-7.5">75</text><text class="mn" x="720" y="-7.5">76</text>
<g class="g"><use href="#c" x="210"/><use href="#c" x="225"/><use href="#c" x="240"/><use href="#c" x="270"/><use href="#c" x="300"/><use href="#c" x="330"/><use href="#c" x="345"/><use href="#c" x="360"/><use href="#c" x="375"/><use href="#c" x="390"/><use href="#c" x="420"/></g>
<g class="y" transform="translate(0,30)"><use href="#c" x="240"/><use href="#c" x="270"/><use href="#c" x="300"/><use href="#c" x="345"/><use href="#c" x="375"/><use href="#c" x="390"/><use href="#c" x="420"/><use href="#c" x="450"/><use href="#c" x="465"/><use href="#s" x="480"/><use href="#s" x="510"/><use href="#s" x="540"/><use href="#s" x="570"/><use href="#s" x="600"/></g>
<g class="b" transform="translate(0,45)"><use href="#c" x="0"/><use href="#c" x="30"/><use href="#c" x="60"/><use href="#c" x="90"/><use href="#c" x="105"/><use href="#c" x="120"/><use href="#c" x="135"/><use href="#c" x="150"/><use href="#c" x="180"/></g>
<g class="o" transform="translate(0,60)"><use href="#c" x="60"/><use href="#c" x="105"/><use href="#c" x="135"/><use href="#c" x="150"/><use href="#c" x="180"/><use href="#s" x="480"/><use href="#s" x="510"/><use href="#s" x="540"/><use href="#s" x="570"/><use href="#s" x="600"/></g>
<rect class="sp" x="480" y="0" width="120" height="60"/>
<text class="s1" x="239" y="75.5">576</text><text class="s2" x="239" y="88.5">111447</text><text class="s3" x="239" y="101">-nan(ind)SP</text>
<text class="s1" x="479" y="75.5">648</text><text class="s2" x="479" y="88.5">114039</text><text class="s3" x="479" y="101">-nan(ind)SP</text>
<text class="s1" x="719" y="75.5">360</text><text class="s2" x="719" y="88.5">115479</text><text class="s3" x="719" y="101">-nan(ind)SP</text>
<text class="s1" x="959" y="75.5">0</text><text class="s2" x="959" y="88.5">115479</text><text class="s3" x="959" y="101">-nan(ind)SP</text>
</g>

<g id="row-77" transform="translate(31.5,3124.5)">
<use href="#staff"/>
<text class="tp" x="-0.5" y="-33"><tspan class="q">♩</tspan>=133</text><text class="tp" x="239.5" y="-33"><tspan class="q">♩</tspan>=135</text><text class="tp" x="479.5" y="-33"><tspan class="q">♩</tspan>=133</text><text class="tp" x="719.5" y="-33"><tspan class="q">♩</tspan>=133</text>
<text class="mn" x="0" y="-7.5">77</text><text class="mn" x="240" y="-7.5">78</text><text class="mn" x="480" y="-7.5">79</text><text class="mn" x="720" y="-7.5">80</text>
<g class="g"><use href="#c" x="450"/><use href="#c" x="465"/><use href="#c" x="480"/><use href="#c" x="510"/><use href="#c" x="540"/><use href="#c" x="570"/><use href="#c" x="585"/><use href="#c" x="600"/><use href="#c" x="615"/><use href="#c" x="630"/><use href="#c" x="660"/></g>
<g class="r" transform="translate(0,15)"><use href="#c" x="0"/><use href="#c" x="930"/><use href="#c" x="945"/></g>
<g class="y" transform="translate(0,30)"><use href="#c" x="480"/><use href="#c" x="510"/><use href="#c" x="540"/><use href="#c" x="585"/><use href="#c" x="615"/><use href="#c" x="630"/><use href="#c" x="660"/><use href="#c" x="690"/><use href="#c" x="705"/><use href="#c" x="720"/><use href="#c" x="750"/><use href="#c" x="780"/><use href="#c" x="810"/><use href="#c" x="825"/><use href="#c" x="840"/><use href="#c" x="855"/><use href="#c" x="870"/><use href="#c" x="900"/></g>
<g class="b" transform="translate(0,45)"><use href="#c" x="0"/><use href="#c" x="210"/><use href="#c" x="225"/><use href="#c" x="240"/><use href="#c" x="270"/><use href="#c" x="300"/><use href="#c" x="330"/><use href="#c" x="345"/><use href="#c" x="360"/><use href="#c" x="375"/><use href="#c" x="390"/><use href="#c" x="420"/></g>
<g class="o" transform="translate(0,60)"><use href="#c" x="240"/><use href="#c" x="270"/><use href="#c" x="300"/><use href="#c" x="345"/><use href="#c" x="375"/><use href="#c" x="390"/><use href="#c" x="420"/><use href="#c" x="720"/><use href="#c" x="750"/><use href="#c" x="780"/><use href="#c" x="825"/><use href="#c" x="855"/><use href="#c" x="870"/><use href="#c" x="900"/></g>
<text class="s1" x="239" y="75.5">144</text><text class="s2" x="239" y="88.5">116055</text><text class="s3" x="239" y="101">-nan(ind)SP</text>
<text class="s1" x="479" y="75.5">648</text><text class="s2" x="479" y="88.5">118647</text><text class="s3" x="479" y="101">-nan(ind)SP</text>
<text class="s1" x="719" y="75.5">648</text><text class="s2" x="719" y="88.5">121239</text><text class="s3" x="719" y="101">-nan(ind)SP</text>
<text class="s1" x="959" y="75.5">648</text><text class="s2" x="959" y="88.5">123831</text><text class="s3" x="959" y="101">-nan(ind)SP</text>
</g>

<g id="row-81" transform="translate(31.5,3277.5)">
<use href="#staff"/>
<text class="tp" x="-0.5" y="-33"><tspan class="q">♩</tspan>=134</text><text class="tp" x="239.5" y="-33"><tspan class="q">♩</tspan>=134</text><text class="tp" x="479.5" y="-33"><tspan class="q">♩</tspan>=135</text><text class="tp" x="719.5" y="-33"><tspan class="q">♩</tspan>=134</text>
<text class="mn" x="0" y="-7.5">81</text><text class="mn" x="240" y="-7.5">82</text><text class="mn" x="480" y="-7.5">83</text><text class="mn" x="720" y="-7.5">84</text>
<g class="g"><use href="#c" x="450"/><use href="#c" x="465"/><use href="#s" x="480"/><use href="#s" x="510"/><use href="#s" x="540"/><use href="#s" x="570"/><use href="#s" x="585"/><use href="#s" x="600"/><use href="#s" x="615"/><use href="#s" x="630"/><use href="#s" x="660"/></g>
<g class="r" transform="translate(0,15)"><use href="#c" x="0"/><use href="#c" x="30"/><use href="#c" x="60"/><use href="#c" x="90"/><use href="#c" x="105"/><use href="#c" x="120"/><use href="#c" x="135"/><use href="#c" x="150"/><use href="#c" x="180"/></g>
<g class="y" transform="translate(0,30)"><use href="#s" x="480"/><use href="#s" x="510"/><use href="#s" x="540"/><use href="#s" x="585"/><use href="#s" x="615"/><use href="#s" x="630"/><use href="#s" x="660"/></g>
<g class="b" transform="translate(0,45)"><use href="#c" x="0"/><use href="#c" x="30"/><use href="#c" x="60"/><use href="#c" x="105"/><use href="#c" x="135"/><use href="#c" x="150"/><use href="#c" x="180"/><use href="#c" x="210"/><use href="#c" x="225"/><use href="#c" x="240"/><use href="#c" x="270"/><use href="#c" x="300"/><use href="#c" x="330"/><use href="#c" x="345"/><use href="#c" x="360"/><use href="#c" x="375"/><use href="#c" x="390"/><use href="#c" x="420"/></g>
<g class="o" transform="translate(0,60)"><use href="#c" x="300"/><use href="#c" x="345"/><use href="#c" x="375"/><use href="#c" x="390"/><use href="#c" x="420"/></g>
<rect class="sp" x="480" y="0" width="180" height="60"/>
<text class="s1" x="239" y="75.5">648</text><text class="s2" x="239" y="88.5">126423</text><text class="s3" x="239" y="101">-nan(ind)SP</text>
<text class="s1" x="479" y="75.5">576</text><text class="s2" x="479" y="88.5">128727</text><text class="s3" x="479" y="101">-nan(ind)SP</text>
<text class="s1" x="719" y="75.5">576</text><text class="s2" x="719" y="88.5">131031</text><text class="s3" x="719" y="101">-nan(ind)SP</text>
<text class="s1" x="959" y="75.5">0</text><text class="s2" x="959" y="88.5">131031</text><text class="s3" x="959" y="101">-nan(ind)SP</text>
</g>

<g id="row-85" transform="translate(31.5,3430.5)">
<use href="#staff"/>
<text class="tp" x="-0.5" y="-33"><tspan class="q">♩</tspan>=136</text><text class="tp" x="239.5" y="-33"><tspan class="q">♩</tspan>=134</text><text class="tp" x="479.5" y="-33"><tspan class="q">♩</tspan>=135</text><text class="tp" x="659.5" y="-33"><tspan class="q">♩</tspan>=126</text><text class="tp" x="719.5" y="-33"><tspan class="q">♩</tspan>=133</text>
<text class="mn" x="0" y="-7.5">85</text><text class="mn" x="240" y="-7.5">86</text><text class="mn" x="480" y="-7.5">87</text><text class="mn" x="720" y="-7.5">88</text>
<rect class="b" x="570" y="42" width="45" height="6"/>
<g class="g"><use href="#c" x="0"/><use href="#c" x="150"/><use href="#c" x="480"/><use href="#c" x="630"/></g>
<g class="r" transform="translate(0,15)"><use href="#c" x="30"/><use href="#c" x="60"/><use href="#c" x="240"/><use href="#c" x="450"/><use href="#c" x="540"/><use href="#c" x="720"/><use href="#c" x="930"/></g>
<g class="y" transform="translate(0,30)"><use href="#c" x="120"/><use href="#c" x="210"/><use href="#c" x="270"/><use href="#c" x="360"/><use href="#c" x="420"/><use href="#c" x="510"/><use href="#c" x="690"/><use href="#c" x="750"/><use href="#c" x="780"/><use href="#c" x="840"/><use href="#c" x="900"/></g>
<g class="b" transform="translate(0,45)"><use href="#c" x="90"/><use href="#c" x="180"/><use href="#c" x="300"/><use href="#c" x="390"/><use href="#c" x="570"/><use href="#c" x="660"/><use href="#c" x="870"/></g>
<g class="o" transform="translate(0,60)"><use href="#c" x="330"/><use href="#c" x="780"/><use href="#c" x="810"/></g>
<text class="s1" x="239" y="75.5">288</text><text class="s2" x="239" y="88.5">132183</text><text class="s3" x="239" y="101">-nan(ind)SP</text>
<text class="s1" x="479" y="75.5">288</text><text class="s2" x="479" y="88.5">133335</text><text class="s3" x="479" y="101">-nan(ind)SP</text>
<text class="s1" x="719" y="75.5">261</text><text class="s2" x="719" y="88.5">134379</text><text class="s3" x="719" y="101">-nan(ind)SP</text>
<text class="s1" x="959" y="75.5">324</text><text class="s2" x="959" y="88.5">135675</text><text class="s3" x="959" y="101">-nan(ind)SP</text>
</g>

<g id="row-89" transform="translate(31.5,3583.5)">
<use href="#staff"/>
<text class="tp" x="-0.5" y="-33"><tspan class="q">♩</tspan>=135</text><text class="tp" x="239.5" y="-33"><tspan class="q">♩</tspan>=131</text><text class="tp" x="479.5" y="-33"><tspan class="q">♩</tspan>=138</text><text class="tp" x="659.5" y="-33"><tspan class="q">♩</tspan>=134</text><text class="tp" x="719.5" y="-33"><tspan class="q">♩</tspan>=132</text>
<text class="mn" x="0" y="-7.5">89</text><text class="mn" x="240" y="-7.5">90</text><text class="mn" x="480" y="-7.5">91</text><text class="mn" x="720" y="-7.5">92</text>
<g class="g"><use href="#c" x="480"/><use href="#c" x="510"/><use href="#c" x="630"/><use href="#c" x="660"/><use href="#s" x="0"/><use href="#s" x="30"/><use href="#s" x="150"/></g>
<g class="r" transform="translate(0,15)"><use href="#c" x="240"/><use href="#c" x="450"/><use href="#c" x="540"/><use href="#c" x="690"/><use href="#s" x="60"/></g>
<g class="y" transform="translate(0,30)"><use href="#c" x="270"/><use href="#c" x="300"/><use href="#c" x="360"/><use href="#c" x="420"/><use href="#c" x="600"/><use href="#c" x="630"/><use href="#c" x="660"/><use href="#c" x="720"/><use href="#s" x="120"/><use href="#s" x="210"/></g>
<g class="b" transform="translate(0,45)"><use href="#c" x="300"/><use href="#c" x="390"/><use href="#c" x="570"/><use href="#s" x="90"/><use href="#s" x="180"/></g>
<g class="o" transform="translate(0,60)"><use href="#c" x="330"/><use href="#c" x="720"/></g>
<rect class="sp" x="0" y="0" width="210" height="60"/>
<text class="s1" x="239" y="75.5">288</text><text class="s2" x="239" y="88.5">136827</text><text class="s3" x="239" y="101">-nan(ind)SP</text>
<text class="s1" x="479" y="75.5">324</text><text class="s2" x="479" y="88.5">138123</text><text class="s3" x="479" y="101">-nan(ind)SP</text>
<text class="s1" x="719" y="75.5">360</text><text class="s2" x="719" y="88.5">139563</text><text class="s3" x="719" y="101">-nan(ind)SP</text>
<text class="s1" x="959" y="75.5">72</text><text class="s2" x="959" y="88.5">139851</text><text class="s3" x="959" y="101">-nan(ind)SP</text>
</g>

<g id="row-93" transform="translate(31.5,3736.5)">
<use href="#staff"/>
<text class="tp" x="-0.5" y="-33"><tspan class="q">♩</tspan>=135</text><text class="tp" x="299.5" y="-33"><tspan class="q">♩</tspan>=136</text><text class="tp" x="479.5" y="-33"><tspan class="q">♩</tspan>=133</text><text class="tp" x="719.5" y="-33"><tspan class="q">♩</tspan>=133</text>
<text class="mn" x="0" y="-7.5">93</text><text class="mn" x="240" y="-7.5">94</text><text class="mn" x="480" y="-7.5">95</text><text class="mn" x="720" y="-7.5">96</text>
<g class="g"><use href="#s" x="480"/><use href="#s" x="540"/><use href="#s" x="600"/><use href="#s" x="660"/></g>
<g class="r" transform="translate(0,15)"><use href="#c" x="0"/><use href="#c" x="930"/></g>
<g class="y" transform="translate(0,30)"><use href="#s" x="480"/><use href="#s" x="540"/><use href="#s" x="600"/><use href="#s" x="660"/><use href="#s" x="720"/></g>
<g class="b" transform="translate(0,45)"><use href="#c" x="0"/><use href="#c" x="270"/><use href="#c" x="300"/><use href="#c" x="930"/></g>
<g class="o" transform="translate(0,60)"><use href="#c" x="270"/><use href="#c" x="300"/><use href="#s" x="720"/></g>
<rect class="sp" x="480" y="0" width="240" height="60"/>
<text class="s1" x="239" y="75.5">72</text><text class="s2" x="239" y="88.5">140139</text><text class="s3" x="239" y="101">-nan(ind)SP</text>
<text class="s1" x="479" y="75.5">144</text><text class="s2" x="479" y="88.5">140715</text><text class="s3" x="479" y="101">-nan(ind)SP</text>
<text class="s1" x="719" y="75.5">288</text><text class="s2" x="719" y="88.5">141867</text><text class="s3" x="719" y="101">-nan(ind)SP</text>
<text class="s1" x="959" y="75.5">144</text><text class="s2" x="959" y="88.5">142443</text><text class="s3" x="959" y="101">-nan(ind)SP</text>
</g>

<g id="row-97" transform="translate(31.5,3889.5)">
<use href="#staff"/>
<text class="tp" x="-0.5" y="-33"><tspan class="q">♩</tspan>=135</text><text class="tp" x="239.5" y="-33"><tspan class="q">♩</tspan>=134</text><text class="tp" x="479.5" y="-33"><tspan class="q">♩</tspan>=134</text><text class="tp" x="719.5" y="-33"><tspan class="q">♩</tspan>=133</text>
<text class="mn" x="0" y="-7.5">97</text><text class="mn" x="240" y="-7.5">98</text><text class="mn" x="480" y="-7.5">99</text><text class="mn" x="720" y="-7.5">100</text>
<g class="g"><use href="#c" x="480"/><use href="#c" x="540"/><use href="#c" x="600"/><use href="#c" x="660"/></g>
<g class="r" transform="translate(0,15)"><use href="#c" x="0"/><use href="#c" x="930"/><use href="#c" x="945"/></g>
<g class="y" transform="translate(0,30)"><use href="#c" x="480"/><use href="#c" x="540"/><use href="#c" x="600"/><use href="#c" x="660"/><use href="#c" x="690"/><use href="#c" x="705"/><use href="#c" x="720"/><use href="#c" x="750"/><use href="#c" x="780"/><use href="#c" x="810"/><use href="#c" x="825"/><use href="#c" x="840"/><use href="#c" x="855"/><use href="#c" x="870"/><use href="#c" x="900"/></g>
<g class="b" transform="translate(0,45)"><use href="#c" x="0"/><use href="#c" x="210"/><use href="#c" x="240"/><use href="#c" x="270"/><use href="#c" x="300"/></g>
<g class="o" transform="translate(0,60)"><use href="#c" x="210"/><use href="#c" x="240"/><use href="#c" x="270"/><use href="#c" x="300"/><use href="#c" x="720"/><use href="#c" x="750"/><use href="#c" x="780"/><use href="#c" x="825"/><use href="#c" x="855"/><use href="#c" x="870"/><use href="#c" x="900"/></g>
<text class="s1" x="239" y="75.5">144</text><text class="s2" x="239" y="88.5">143019</text><text class="s3" x="239" y="101">-nan(ind)SP</text>
<text class="s1" x="479" y="75.5">216</text><text class="s2" x="479" y="88.5">143883</text><text class="s3" x="479" y="101">-nan(ind)SP</text>
<text class="s1" x="719" y="75.5">360</text><text class="s2" x="719" y="88.5">145323</text><text class="s3" x="719" y="101">-nan(ind)SP</text>
<text class="s1" x="959" y="75.5">648</text><text class="s2" x="959" y="88.5">147915</text><text class="s3" x="959" y="101">-nan(ind)SP</text>
</g>

<g id="row-101" transform="translate(31.5,4042.5)">
<use href="#staff"/>
<text class="tp" x="-0.5" y="-33"><tspan class="q">♩</tspan>=134</text><text class="tp" x="239.5" y="-33"><tspan class="q">♩</tspan>=134</text><text class="tp" x="479.5" y="-33"><tspan class="q">♩</tspan>=135</text><text class="tp" x="599.5" y="-33"><tspan class="q">♩</tspan>=131</text><text class="tp" x="719.5" y="-33"><tspan class="q">♩</tspan>=135</text>
<text class="mn" x="0" y="-7.5">101</text><text class="mn" x="240" y="-7.5">102</text><text class="mn" x="480" y="-7.5">103</text><text class="mn" x="720" y="-7.5">104</text>
<g class="g"><use href="#c" x="450"/><use href="#c" x="465"/><use href="#c" x="480"/><use href="#c" x="510"/><use href="#c" x="540"/><use href="#c" x="570"/><use href="#c" x="585"/><use href="#c" x="600"/><use href="#c" x="615"/><use href="#c" x="630"/><use href="#c" x="660"/></g>
<g class="r" transform="translate(0,15)"><use href="#c" x="0"/><use href="#c" x="30"/><use href="#c" x="60"/><use href="#c" x="90"/><use href="#c" x="105"/><use href="#c" x="120"/><use href="#c" x="135"/><use href="#c" x="150"/><use href="#c" x="180"/><use href="#c" x="930"/><use href="#c" x="945"/></g>
<g class="y" transform="translate(0,30)"><use href="#c" x="480"/><use href="#c" x="510"/><use href="#c" x="540"/><use href="#c" x="585"/><use href="#c" x="615"/><use href="#c" x="630"/><use href="#c" x="660"/><use href="#c" x="690"/><use href="#c" x="705"/><use href="#c" x="720"/><use href="#c" x="750"/><use href="#c" x="780"/><use href="#c" x="810"/><use href="#c" x="825"/><use href="#c" x="840"/><use href="#c" x="855"/><use href="#c" x="870"/><use href="#c" x="900"/></g>
<g class="b" transform="translate(0,45)"><use href="#c" x="0"/><use href="#c" x="30"/><use href="#c" x="60"/><use href="#c" x="105"/><use href="#c" x="135"/><use href="#c" x="150"/><use href="#c" x="180"/><use href="#c" x="210"/><use href="#c" x="225"/><use href="#c" x="240"/><use href="#c" x="270"/><use href="#c" x="300"/><use href="#c" x="330"/><use href="#c" x="345"/><use href="#c" x="360"/><use href="#c" x="375"/><use href="#c" x="390"/><use href="#c" x="420"/></g>
<g class="o" transform="translate(0,60)"><use href="#c" x="300"/><use href="#c" x="345"/><use href="#c" x="375"/><use href="#c" x="390"/><use href="#c" x="420"/><use href="#c" x="720"/><use href="#c" x="750"/><use href="#c" x="780"/><use href="#c" x="825"/><use href="#c" x="855"/><use href="#c" x="870"/><use href="#c" x="900"/></g>
<text class="s1" x="239" y="75.5">648</text><text class="s2" x="239" y="88.5">150507</text><text class="s3" x="239" y="101">-nan(ind)SP</text>
<text class="s1" x="479" y="75.5">576</text><text class="s2" x="479" y="88.5">152811</text><text class="s3" x="479" y="101">-nan(ind)SP</text>
<text class="s1" x="719" y="75.5">648</text><text class="s2" x="719" y="88.5">155403</text><text class="s3" x="719" y="101">-nan(ind)SP</text>
<text class="s1" x="959" y="75.5">648</text><text class="s2" x="959" y="88.5">157995</text><text class="s3" x="959" y="101">-nan(ind)SP</text>
</g>

<g id="row-105" transform="translate(31.5,4195.5)">
<use href="#staff"/>
<text class="tp" x="-0.5" y="-33"><tspan class="q">♩</tspan>=135</text><text class="tp" x="239.5" y="-33"><tspan class="q">♩</tspan>=134</text><text class="tp" x="479.5" y="-33"><tspan class="q">♩</tspan>=133</text><text class="tp" x="719.5" y="-33"><tspan class="q">♩</tspan>=131</text>
<text class="mn" x="0" y="-7.5">105</text><text class="mn" x="240" y="-7.5">106</text><text class="mn" x="480" y="-7.5">107</text><text class="mn" x="720" y="-7.5">108</text>
<g class="g"><use href="#c" x="450"/><use href="#c" x="465"/><use href="#c" x="480"/><use href="#c" x="510"/><use href="#c" x="540"/><use href="#c" x="570"/><use href="#c" x="585"/><use href="#c" x="600"/><use href="#c" x="615"/><use href="#c" x="630"/><use href="#c" x="660"/></g>
<g class="r" transform="translate(0,15)"><use href="#c" x="0"/><use href="#c" x="30"/><use href="#c" x="60"/><use href="#c" x="90"/><use href="#c" x="105"/><use href="#c" x="120"/><use href="#c" x="135"/><use href="#c" x="150"/><use href="#c" x="180"/></g>
<g class="y" transform="translate(0,30)"><use href="#c" x="480"/><use href="#c" x="510"/><use href="#c" x="540"/><use href="#c" x="585"/><use href="#c" x="615"/><use href="#c" x="630"/><use href="#c" x="660"/></g>
<g class="b" transform="translate(0,45)"><use href="#c" x="0"/><use href="#c" x="30"/><use href="#c" x="60"/><use href="#c" x="105"/><use href="#c" x="135"/><use href="#c" x="150"/><use href="#c" x="180"/><use href="#c" x="210"/><use href="#c" x="225"/><use href="#c" x="240"/><use href="#c" x="270"/><use href="#c" x="300"/><use href="#c" x="330"/><use href="#c" x="345"/><use href="#c" x="360"/><use href="#c" x="375"/><use href="#c" x="390"/><use href="#c" x="420"/></g>
<g class="o" transform="translate(0,60)"><use href="#c" x="300"/><use href="#c" x="345"/><use href="#c" x="375"/><use href="#c" x="390"/><use href="#c" x="420"/></g>
<text class="s1" x="239" y="75.5">648</text><text class="s2" x="239" y="88.5">160587</text><text class="s3" x="239" y="101">-nan(ind)SP</text>
<text class="s1" x="479" y="75.5">576</text><text class="s2" x="479" y="88.5">162891</text><text class="s3" x="479" y="101">-nan(ind)SP</text>
<text class="s1" x="719" y="75.5">576</text><text class="s2" x="719" y="88.5">165195</text><text class="s3" x="719" y="101">-nan(ind)SP</text>
<text class="s1" x="959" y="75.5">0</text><text class="s2" x="959" y="88.5">165195</text><text class="s3" x="959" y="101">-nan(ind)SP</text>
</g>

<g id="row-109" transform="translate(31.5,4348.5)">
<use href="#staff"/>
<text class="tp" x="-0.5" y="-33"><tspan class="q">♩</tspan>=134</text><text class="tp" x="239.5" y="-33"><tspan class="q">♩</tspan>=135</text><text class="tp" x="479.5" y="-33"><tspan class="q">♩</tspan>=134</text><text class="tp" x="719.5" y="-33"><tspan class="q">♩</tspan>=134</text>
<text class="mn" x="0" y="-7.5">109</text><text class="mn" x="240" y="-7.5">110</text><text class="mn" x="480" y="-7.5">111</text><text class="mn" x="720" y="-7.5">112</text>
<text class="s1" x="239" y="75.5">0</text><text class="s2" x="239" y="88.5">165195</text><text class="s3" x="239" y="101">-nan(ind)SP</text>
<text class="s1" x="479" y="75.5">0</text><text class="s2" x="479" y="88.5">165195</text><text class="s3" x="479" y="101">-nan(ind)SP</text>
<text class="s1" x="719" y="75.5">0</text><text class="s2" x="719" y="88.5">165195</text><text class="s3" x="719" y="101">-nan(ind)SP</text>
<text class="s1" x="959" y="75.5">0</text><text class="s2" x="959" y="88.5">165195</text><text class="s3" x="959" y="101">-nan(ind)SP</text>
</g>

<g id="row-113" transform="translate(31.5,4501.5)">
<use href="#staff"/>
<text class="tp" x="-0.5" y="-33"><tspan class="q">♩</tspan>=133</text><text class="tp" x="239.5" y="-33"><tspan class="q">♩</tspan>=135</text><text class="tp" x="479.5" y="-33"><tspan class="q">♩</tspan>=135</text><text class="tp" x="599.5" y="-33"><tspan class="q">♩</tspan>=133</text><text class="tp" x="719.5" y="-33"><tspan class="q">♩</tspan>=92</text><text class="tp" x="779.5" y="-33"><tspan class="q">♩</tspan>=98</text><text class="tp" x="839.5" y="-33"><tspan class="q">♩</tspan>=93</text>
<text class="mn" x="0" y="-7.5">113</text><text class="mn" x="240" y="-7.5">114</text><text class="mn" x="480" y="-7.5">115</text><text class="mn" x="720" y="-7.5">116</text>
<rect class="o" x="840" y="57" width="120" height="6"/>
<g class="g"><use href="#c" x="720"/></g>
<g class="r" transform="translate(0,15)"><use href="#c" x="750"/></g>
<g class="y" transform="translate(0,30)"><use href="#c" x="780"/></g>
<g class="b" transform="translate(0,45)"><use href="#c" x="810"/></g>
<g class="o" transform="translate(0,60)"><use href="#c" x="840"/></g>
<text class="s1" x="239" y="75.5">0</text><text class="s2" x="239" y="88.5">165195</text><text class="s3" x="239" y="101">-nan(ind)SP</text>
<text class="s1" x="479" y="75.5">0</text><text class="s2" x="479" y="88.5">165195</text><text class="s3" x="479" y="101">-nan(ind)SP</text>
<text class="s1" x="719" y="75.5">0</text><text class="s2" x="719" y="88.5">165195</text><text class="s3" x="719" y="101">-nan(ind)SP</text>
<text class="s1" x="959" y="75.5">204</text><text class="s2" x="959" y="88.5">166011</text><text class="s3" x="959" y="101">-nan(ind)SP</text>
</g>

<g id="row-117" transform="translate(31.5,4654.5)">
<use href="#staff1"/>
<text class="mn" x="0" y="-7.5">117</text>
<rect class="o" x="0" y="57" width="105" height="6"/>
<text class="s1" x="239" y="75.5">22</text><text class="s2" x="239" y="88.5">166099</text><text class="s3" x="239" y="101">-nan(ind)SP</text>
</g>
</svg>
